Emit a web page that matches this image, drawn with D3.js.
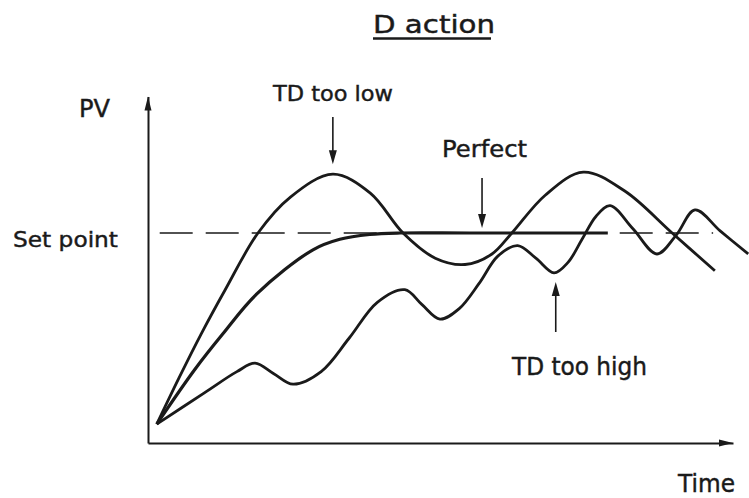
<!DOCTYPE html>
<html>
<head>
<meta charset="utf-8">
<script src="https://cdn.jsdelivr.net/npm/d3@7"></script>
<style>
  html, body { margin: 0; padding: 0; background: #fff; }
  svg { display: block; }
  text { font-family: "DejaVu Sans", sans-serif; fill: #1a1a1a; stroke: #1a1a1a; stroke-width: 0.45; }
</style>
</head>
<body>
<svg id="chart" width="749" height="498"></svg>
<script>
// Process-variable responses over time for three derivative settings.
// Each point is [time, PV] with the set point at PV = 1.
const tdTooLow = [
  [1.5, 0.09], [5.3, 0.31], [9.1, 0.52], [13.2, 0.73], [18.8, 1.00],
  [24.3, 1.17], [31.6, 1.28], [38.0, 1.19], [43.6, 1.00], [49.1, 0.88],
  [54.2, 0.85], [58.8, 0.90], [62.2, 1.00], [67.9, 1.18], [74.4, 1.29],
  [81.5, 1.20], [89.6, 1.00], [96.9, 0.82]
];
const perfect = [
  [1.5, 0.09], [8.0, 0.35], [12.8, 0.52], [18.6, 0.71], [28.2, 0.92],
  [32.8, 0.97], [37.9, 0.993], [43.1, 1.00], [55.0, 1.00], [78.6, 1.00]
];
const tdTooHigh = [
  [1.5, 0.09], [9.7, 0.24], [15.2, 0.34], [18.3, 0.38], [21.5, 0.33],
  [24.8, 0.28], [29.6, 0.34], [34.4, 0.50], [39.2, 0.67], [43.9, 0.73],
  [46.8, 0.66], [49.9, 0.59], [53.2, 0.64], [56.6, 0.76], [59.8, 0.89],
  [63.2, 0.94], [66.3, 0.88], [69.4, 0.81], [71.8, 0.86], [74.2, 0.97],
  [76.6, 1.08], [79.0, 1.13], [82.9, 1.02], [87.0, 0.90], [90.3, 0.99],
  [93.5, 1.11], [97.8, 1.01], [102.6, 0.90]
];
const setPoint = 1.0;
const setPointSpan = [2.0, 96.6];

// Labelled features: [time, PV] of the curve point each arrow refers to.
const lowPeak = [31.6, 1.28];
const perfectSettled = [57.1, 1.00];
const highTrough = [69.7, 0.81];

const labels = {
  title: "D action",
  yAxis: "PV",
  xAxis: "Time",
  setPoint: "Set point",
  low: "TD too low",
  perfect: "Perfect",
  high: "TD too high"
};

const ink = "#1a1a1a";
const svg = d3.select("#chart");

const x = d3.scaleLinear().domain([0, 100]).range([148, 733]);
const y = d3.scaleLinear().domain([0, 1.65]).range([443, 96.5]);

// Axes: plain lines with arrowheads, no ticks.
svg.append("g")
  .attr("transform", `translate(0,${y(0)})`)
  .call(d3.axisBottom(x).tickValues([]).tickSizeOuter(0));
svg.append("g")
  .attr("transform", `translate(${x(0)},0)`)
  .call(d3.axisLeft(y).tickValues([]).tickSizeOuter(0));
svg.selectAll(".domain").attr("stroke", ink).attr("stroke-width", 2);

svg.append("path")
  .attr("d", `M${x(100)},${y(0)} L${x(100) - 14},${y(0) - 3.5} L${x(100) - 14},${y(0) + 3.5} Z`)
  .attr("fill", ink);
svg.append("path")
  .attr("d", `M${x(0)},${y(1.65)} L${x(0) - 3.5},${y(1.65) + 14} L${x(0) + 3.5},${y(1.65) + 14} Z`)
  .attr("fill", ink);

// Set point reference line
svg.append("line")
  .attr("x1", x(setPointSpan[0])).attr("x2", x(setPointSpan[1]))
  .attr("y1", y(setPoint)).attr("y2", y(setPoint))
  .attr("stroke", ink).attr("stroke-width", 1.4)
  .attr("stroke-dasharray", "33 13");

// Response curves
const line = d3.line()
  .x(d => x(d[0]))
  .y(d => y(d[1]))
  .curve(d3.curveCatmullRom.alpha(0.5));

[[tdTooLow, 2.8], [tdTooHigh, 2.8], [perfect, 3.2]].forEach(([data, w]) => {
  svg.append("path")
    .datum(data)
    .attr("d", line)
    .attr("fill", "none")
    .attr("stroke", ink)
    .attr("stroke-width", w)
    .attr("stroke-linejoin", "round")
    .attr("stroke-linecap", "butt");
});

// Annotation arrows
function arrow(xPos, yFrom, yTo) {
  const dir = yTo > yFrom ? 1 : -1;
  svg.append("line")
    .attr("x1", xPos).attr("x2", xPos)
    .attr("y1", yFrom).attr("y2", yTo - dir * 10)
    .attr("stroke", ink).attr("stroke-width", 1.6);
  svg.append("path")
    .attr("d", `M${xPos},${yTo} L${xPos - 4},${yTo - dir * 14} L${xPos + 4},${yTo - dir * 14} Z`)
    .attr("fill", ink);
}
arrow(x(lowPeak[0]), 117, y(lowPeak[1]) - 10);
arrow(x(perfectSettled[0]), 178, y(perfectSettled[1]) - 5);
arrow(x(highTrough[0]), 332, y(highTrough[1]) + 9);

// Text
function label(txt, xPos, yPos, size, width) {
  const t = svg.append("text")
    .attr("x", xPos).attr("y", yPos)
    .attr("font-size", size)
    .text(txt);
  if (width) t.attr("textLength", width).attr("lengthAdjust", "spacingAndGlyphs");
  return t;
}
label(labels.title, 373, 33, 25, 122);
svg.append("line")
  .attr("x1", 373).attr("x2", 491)
  .attr("y1", 38.5).attr("y2", 38.5)
  .attr("stroke", ink).attr("stroke-width", 2.5);

label(labels.yAxis, 79, 117, 25, 31);
label(labels.xAxis, 678, 492, 25, 57);
label(labels.setPoint, 13, 247, 22, 105);
label(labels.low, 273, 101, 22, 120);
label(labels.perfect, 442, 157, 23, 85);
label(labels.high, 512, 375, 24, 135);
</script>
</body>
</html>
